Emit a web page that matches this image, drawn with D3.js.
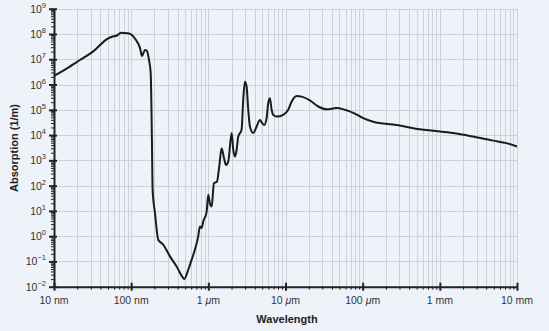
<!DOCTYPE html>
<html>
<head>
<meta charset="utf-8">
<script src="https://cdn.jsdelivr.net/npm/d3@7"></script>
<style>
  html, body { margin: 0; padding: 0; background: #eef2f9; }
  svg { display: block; font-family: "Liberation Sans", Arial, sans-serif; }
</style>
</head>
<body>
<div id="chart"></div>
<script>
// wavelength (log10 of metres) and absorption (log10 of 1/m)
const wavelengthExp = [
  -8.000, -7.832, -7.663, -7.495, -7.313, -7.249, -7.184, -7.132, -7.041, -6.990,
  -6.938, -6.886, -6.860, -6.821, -6.795, -6.769, -6.747, -6.731, -6.722, -6.692,
  -6.649, -6.584, -6.497, -6.411, -6.325, -6.312, -6.260, -6.216, -6.174, -6.131,
  -6.109, -6.087, -6.066, -6.022, -6.001, -5.979, -5.957, -5.927, -5.889, -5.859,
  -5.828, -5.798, -5.772, -5.742, -5.698, -5.677, -5.655, -5.633, -5.613, -5.569,
  -5.548, -5.526, -5.504, -5.483, -5.461, -5.418, -5.374, -5.332, -5.302, -5.276,
  -5.245, -5.224, -5.202, -5.180, -5.159, -5.115, -5.030, -4.965, -4.921, -4.856,
  -4.791, -4.684, -4.576, -4.468, -4.338, -4.231, -4.123, -3.994, -3.864, -3.561,
  -3.259, -3.087, -2.828, -2.569, -2.310, -2.136, -2.000
];
const absorptionExp = [
  6.34, 6.64, 6.97, 7.30, 7.80, 7.89, 7.94, 8.05, 8.03, 7.96,
  7.76, 7.45, 7.13, 7.37, 7.33, 6.97, 6.46, 3.81, 1.83, 0.93,
  -0.14, -0.34, -0.80, -1.20, -1.66, -1.70, -1.33, -0.93, -0.54, -0.01,
  0.38, 0.32, 0.58, 0.96, 1.64, 1.28, 1.17, 2.10, 2.15, 2.74,
  3.48, 3.10, 2.82, 2.95, 4.08, 3.42, 3.15, 3.42, 3.93, 4.21,
  5.39, 6.11, 5.92, 5.00, 4.34, 4.08, 4.34, 4.60, 4.47, 4.40,
  4.67, 5.26, 5.46, 5.00, 4.80, 4.73, 4.80, 5.00, 5.32, 5.55,
  5.52, 5.37, 5.13, 5.02, 5.07, 5.00, 4.88, 4.67, 4.53, 4.40,
  4.23, 4.17, 4.08, 3.94, 3.78, 3.68, 3.55
];

const xTickValues = [1e-8, 1e-7, 1e-6, 1e-5, 1e-4, 1e-3, 1e-2];
const xTickNumbers = ["10", "100", "1", "10", "100", "1", "10"];
const xTickUnits = ["nm", "nm", "\u03bcm", "\u03bcm", "\u03bcm", "mm", "mm"];
const yTickExponents = [-2, -1, 0, 1, 2, 3, 4, 5, 6, 7, 8, 9];

const width = 549, height = 331;
const margin = { left: 54, right: 32, top: 8.7, bottom: 44.3 };

const svg = d3.select("#chart").append("svg")
  .attr("width", width)
  .attr("height", height);

svg.append("rect").attr("width", width).attr("height", height).attr("fill", "#eef2f9");

const x = d3.scaleLog().domain([1e-8, 1e-2]).range([margin.left, width - margin.right]);
const y = d3.scaleLog().domain([1e-2, 1e9]).range([height - margin.bottom, margin.top]);

// grid: vertical lines at every 1..9 multiple, horizontal at every decade
let minorX = [];
for (let e = -8; e < -2; e++) {
  for (let m = 1; m < 10; m++) minorX.push(m * Math.pow(10, e));
}
minorX.push(1e-2);
let decadesY = yTickExponents.map(function(e){ return Math.pow(10, e); });

let grid = svg.append("g").attr("stroke", "#cdd1da").attr("stroke-width", 1);
grid.selectAll("line.vx").data(minorX).join("line")
  .attr("class", "vx")
  .attr("x1", function(d){ return Math.round(x(d)) + 0.5; })
  .attr("x2", function(d){ return Math.round(x(d)) + 0.5; })
  .attr("y1", y(1e9)).attr("y2", y(1e-2));
grid.selectAll("line.hy").data(decadesY).join("line")
  .attr("class", "hy")
  .attr("x1", x(1e-8)).attr("x2", x(1e-2))
  .attr("y1", function(d){ return Math.round(y(d)) + 0.5; })
  .attr("y2", function(d){ return Math.round(y(d)) + 0.5; });

// the curve
let points = wavelengthExp.map(function(w, i){
  return [Math.pow(10, w), Math.pow(10, absorptionExp[i])];
});
let line = d3.line()
  .x(function(d){ return x(d[0]); })
  .y(function(d){ return y(d[1]); })
  .curve(d3.curveMonotoneX);
svg.append("path")
  .datum(points)
  .attr("d", line)
  .attr("fill", "none")
  .attr("stroke", "#1b1b1b")
  .attr("stroke-width", 2)
  .attr("stroke-linejoin", "round");

// y axis with minor ticks
let minorY = [];
for (let e = -2; e < 9; e++) {
  for (let m = 2; m < 10; m++) minorY.push(m * Math.pow(10, e));
}
let yAxis = svg.append("g").attr("transform", `translate(${x(1e-8)},0)`);
yAxis.append("g")
  .call(d3.axisLeft(y).tickValues(minorY).tickSize(3).tickFormat(""))
  .call(function(g){ g.select(".domain").remove(); })
  .selectAll("line").attr("stroke", "#222").attr("stroke-width", 1);
yAxis.append("g")
  .call(d3.axisLeft(y).tickValues(decadesY).tickSize(5).tickFormat("").tickSizeOuter(0))
  .call(function(g){
    g.select(".domain").attr("stroke", "#222").attr("stroke-width", 2);
    g.selectAll("line").attr("stroke", "#222").attr("stroke-width", 2).attr("x2", 3).attr("x1", -5);
  });

let yLabels = svg.append("g");
yLabels.selectAll("text").data(yTickExponents).join("text")
  .attr("x", x(1e-8) - 8)
  .attr("y", function(d){ return y(Math.pow(10, d)) + 4; })
  .attr("text-anchor", "end")
  .attr("font-size", 10.5)
  .attr("fill", "#333")
  .each(function(d){
    let t = d3.select(this);
    t.append("tspan").text("10");
    t.append("tspan").attr("dy", -5).attr("font-size", 7.5).text(d < 0 ? "\u2212" + (-d) : d);
  });

// x axis with minor ticks
let minorXTicks = minorX.filter(function(d){ return xTickValues.indexOf(d) < 0; });
let xAxis = svg.append("g").attr("transform", `translate(0,${y(1e-2)})`);
xAxis.append("g")
  .call(d3.axisBottom(x).tickValues(minorXTicks).tickSize(3).tickFormat(""))
  .call(function(g){ g.select(".domain").remove(); })
  .selectAll("line").attr("stroke", "#222").attr("stroke-width", 1);
xAxis.append("g")
  .call(d3.axisBottom(x).tickValues(xTickValues).tickSize(5).tickFormat("").tickSizeOuter(0))
  .call(function(g){
    g.select(".domain").attr("stroke", "#222").attr("stroke-width", 2);
    g.selectAll("line").attr("stroke", "#222").attr("stroke-width", 2).attr("y1", -4).attr("y2", 4);
  });

let xLabels = svg.append("g");
xLabels.selectAll("text").data(xTickValues).join("text")
  .attr("x", function(d){ return x(d); })
  .attr("y", y(1e-2) + 17)
  .attr("text-anchor", "middle")
  .attr("font-size", 10.5)
  .attr("fill", "#333")
  .each(function(d, i){
    let t = d3.select(this);
    t.append("tspan").text(xTickNumbers[i] + " ");
    let unit = xTickUnits[i];
    if (unit[0] == "\u03bc") {
      t.append("tspan").attr("font-style", "italic").text("\u03bc");
      t.append("tspan").text(unit.slice(1));
    } else {
      t.append("tspan").text(unit);
    }
  });

// axis titles
svg.append("text")
  .attr("x", 287)
  .attr("y", 323)
  .attr("text-anchor", "middle")
  .attr("font-size", 11)
  .attr("font-weight", "bold")
  .attr("fill", "#222")
  .text("Wavelength");

svg.append("text")
  .attr("transform", "translate(18,148) rotate(-90)")
  .attr("text-anchor", "middle")
  .attr("font-size", 11)
  .attr("font-weight", "bold")
  .attr("fill", "#222")
  .text("Absorption (1/m)");
</script>
</body>
</html>
